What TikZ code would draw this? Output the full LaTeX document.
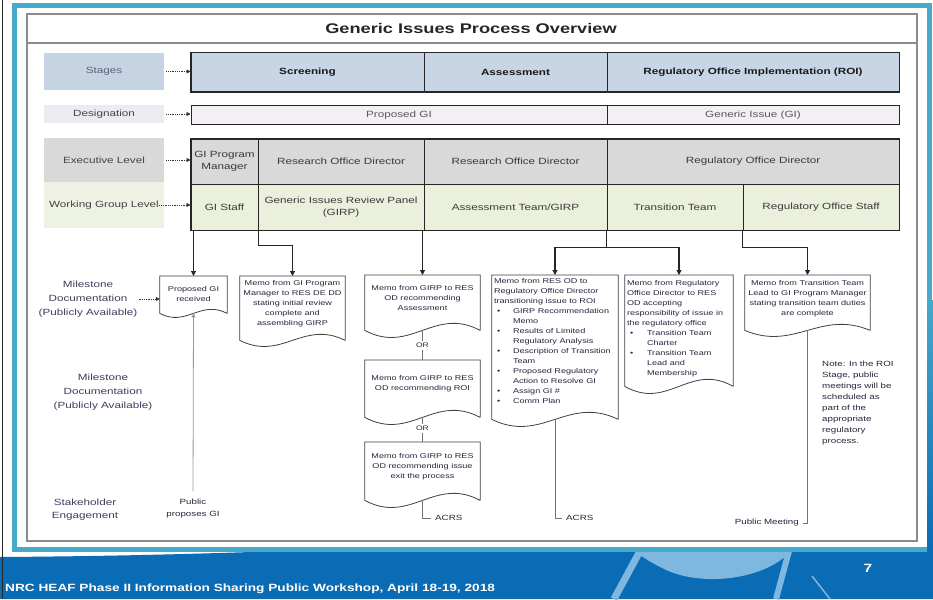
\documentclass[tikz,border=0pt]{standalone}
\usepackage{fontspec}
\setmainfont{Liberation Sans}[FakeStretch=1.3]
\usetikzlibrary{arrows.meta}
\definecolor{stagefill}{HTML}{C8D5E5}
\definecolor{stagelab}{HTML}{C5D3E3}
\definecolor{desfill}{HTML}{F3EFF4}
\definecolor{deslab}{HTML}{EEEAF1}
\definecolor{execfill}{HTML}{D9D9D9}
\definecolor{workfill}{HTML}{EBF0DC}
\definecolor{worklab}{HTML}{EEF2E2}
\definecolor{tealc}{HTML}{45A9CA}
\definecolor{slideblue}{HTML}{0B6CB6}
\definecolor{lightsw}{HTML}{7EB7E0}
\definecolor{rowtxt}{HTML}{3A3A3A}
\definecolor{labtxt}{HTML}{444444}
\definecolor{stagetxt}{HTML}{56657A}
\definecolor{mlabtxt}{HTML}{3C3F5E}
\definecolor{doctxt}{HTML}{25253F}
\newcommand\docshape[6]{%
  \node[docbody, minimum width=#4pt, minimum height=#5pt, anchor=north] (#1) at (#2,#3) {};
  \draw[docline] (#1.south east) -- (#1.north east) -- (#1.north west) -- (#1.south west)
     .. controls +(0.4*#4,3.5*#6) and +(-0.4*#4,-3.5*#6) .. (#1.south east);
}
\begin{document}
\begin{tikzpicture}[x=1pt,y=-1pt,
  cell/.style={draw=black!85, line width=1pt, inner sep=1pt, align=center, text=rowtxt, font=\fontsize{9}{11.5}\selectfont},
  stagecell/.style={cell, fill=stagefill, font=\bfseries\fontsize{9}{11}\selectfont, text=black!90, minimum height=39pt},
  descell/.style={cell, fill=desfill, text=black!65, minimum height=18pt},
  execcell/.style={cell, fill=execfill, minimum height=45pt},
  workcell/.style={cell, fill=workfill, minimum height=46pt},
  lab/.style={inner sep=0pt, minimum width=120pt, text=labtxt, font=\fontsize{9}{11}\selectfont},
  mlab/.style={inner sep=0pt, align=center, text=mlabtxt, font=\fontsize{9}{14}\selectfont},
  dotarr/.style={densely dotted, line width=0.8pt, black!80, -{Triangle[length=4pt,width=4pt]}},
  conn/.style={line width=1.1pt, black!85, -{Triangle[length=5pt,width=5pt]}},
  thin/.style={line width=0.8pt, black!55},
  docbody/.style={inner sep=0pt, rectangle},
  docline/.style={draw=black!75, line width=0.8pt},
  doctext/.style={inner sep=0pt, align=center, text=doctxt, font=\fontsize{7}{10}\selectfont},
  smalltext/.style={inner sep=0pt, text=doctxt, font=\fontsize{7.5}{11}\selectfont}
]
\useasboundingbox (0,0) rectangle (933,599);
\fill[white] (0,0) rectangle (933,599);
% slide footer band
\fill[slideblue] (0,557) .. controls (150,556) and (250,552) .. (340,549) -- (933,549) -- (933,599) -- (0,599) -- cycle;
\fill[lightsw] (634,551) -- (791,551) .. controls (765,580) and (700,588) .. (662,568) .. controls (650,562) and (641,556) .. (634,551) -- cycle;
\draw[lightsw, line width=7pt] (640,551) -- (614,599);
\draw[lightsw, line width=6pt] (789,551) -- (776,599);
\draw[lightsw, line width=1.5pt] (812,576) -- (830,599);
% teal frame
\draw[tealc, line width=5pt] (14.5,5.5) -- (929.5,5.5) -- (929.5,549) -- (14.5,549) -- cycle;
\shade[top color=tealc, bottom color=slideblue] (927,300) rectangle (933,552);
\draw[black!85, line width=1.5pt] (2.5,0) -- (2.5,599);
% diagram frame
\draw[black!45, line width=1.2pt] (27,14) rectangle (917,541);
\draw[black!45, line width=1.2pt] (27,43) -- (917,43);
\node[font=\bfseries\fontsize{14}{16}\selectfont, text=black!85, inner sep=0pt] (title) at (471,28) {Generic Issues Process Overview};
% stages
\node[stagecell, minimum width=233pt] (sc) at (307.5,72.5) {Screening};
\node[stagecell, minimum width=183pt] (as) at (515.5,72.5) {Assessment};
\node[stagecell, minimum width=292pt] (roi) at (753,72.5) {Regulatory Office Implementation (ROI)};
\draw[line width=1.6pt, black!85] (sc.north west) rectangle (roi.south east);
% designation
\node[descell, minimum width=416pt] (pg) at (399,115) {Proposed GI};
\node[descell, minimum width=292pt] (gi) at (753,115) {Generic Issue (GI)};
% executive
\node[execcell, minimum width=67pt] (gipm) at (224.5,161.5) {GI Program\\Manager};
\node[execcell, minimum width=166pt] (rod1) at (341,161.5) {Research Office Director};
\node[execcell, minimum width=183pt] (rod2) at (515.5,161.5) {Research Office Director};
\node[execcell, minimum width=292pt] (regod) at (753,161.5) {Regulatory Office Director};
% working
\node[workcell, minimum width=67pt] (gis) at (224.5,207) {GI Staff};
\node[workcell, minimum width=166pt] (girp) at (341,207) {Generic Issues Review Panel\\(GIRP)};
\node[workcell, minimum width=183pt] (atg) at (515.5,207) {Assessment Team/GIRP};
\node[workcell, minimum width=136pt] (tt) at (675,207) {Transition Team};
\node[workcell, minimum width=156pt] (ros) at (821,207) {Regulatory Office Staff};
\draw[line width=1.4pt, black!85] (gipm.north west) rectangle (ros.south east);
% left labels
\node[lab, fill=stagelab, minimum height=37pt, text=stagetxt] (labst) at (104,71.5) {Stages};
\node[lab, fill=deslab, minimum height=18pt] (labde) at (104,114) {Designation};
\node[lab, fill=execfill, minimum height=44pt] (labex) at (104,160) {Executive Level};
\node[lab, fill=worklab, minimum height=46pt] (labwg) at (104,205) {Working Group Level};
\draw[dotarr] ([xshift=2pt]labst.east) -- (labst.east -| sc.west);
\draw[dotarr] ([xshift=2pt]labde.east) -- (labde.east -| pg.west);
\draw[dotarr] ([xshift=2pt]labex.east) -- (labex.east -| gipm.west);
\draw[dotarr] ([xshift=-5pt]labwg.east) -- (labwg.east -| gis.west);
% milestone labels
\node[mlab] (ml1) at (88,299) {Milestone\\Documentation\\(Publicly Available)};
\node[mlab] (ml2) at (103,392) {Milestone\\Documentation\\(Publicly Available)};
\node[mlab, font=\fontsize{9}{13}\selectfont] (sh) at (85,509.5) {Stakeholder\\Engagement};
% documents
\docshape{d0}{193.5}{276}{67}{37}{4}
\docshape{d1}{292.5}{276}{105}{64}{6}
\docshape{d2}{422.5}{275}{115}{55}{7}
\docshape{d3}{422.5}{360}{115}{57}{7}
\docshape{d4}{422.5}{442}{115}{58}{7}
\docshape{d5}{555}{275}{126}{144}{7}
\docshape{d6}{679}{275}{108}{111}{7}
\docshape{d7}{807.5}{275}{125}{55}{6}
\node[doctext, anchor=north] (d0t) at ([yshift=-10.5pt]d0.north) {Proposed GI\\received};
\node[doctext, anchor=north] (d1t) at ([yshift=-4.5pt]d1.north) {Memo from GI Program\\Manager to RES DE DD\\stating initial review\\complete and\\assembling GIRP};
\node[doctext, anchor=north] (d2t) at ([yshift=-10.5pt]d2.north) {Memo from GIRP to RES\\OD recommending\\Assessment};
\node[doctext, anchor=north] (d3t) at ([yshift=-15.5pt]d3.north) {Memo from GIRP to RES\\OD recommending ROI};
\node[doctext, anchor=north] (d4t) at ([yshift=-11.5pt]d4.north) {Memo from GIRP to RES\\OD recommending issue\\exit the process};
\node[doctext, align=left, anchor=north west] (d5t) at ([xshift=2pt,yshift=-3.2pt]d5.north west) {Memo from RES OD to\\Regulatory Office Director\\transitioning issue to ROI\\
\hspace*{3pt}\makebox[16pt][l]{•}GIRP Recommendation\\\hspace*{19pt}Memo\\
\hspace*{3pt}\makebox[16pt][l]{•}Results of Limited\\\hspace*{19pt}Regulatory Analysis\\
\hspace*{3pt}\makebox[16pt][l]{•}Description of Transition\\\hspace*{19pt}Team\\
\hspace*{3pt}\makebox[16pt][l]{•}Proposed Regulatory\\\hspace*{19pt}Action to Resolve GI\\
\hspace*{3pt}\makebox[16pt][l]{•}Assign GI \#\\
\hspace*{3pt}\makebox[16pt][l]{•}Comm Plan};
\node[doctext, align=left, anchor=north west] (d6t) at ([xshift=2pt,yshift=-5.2pt]d6.north west) {Memo from Regulatory\\Office Director to RES\\OD accepting\\responsibility of issue in\\the regulatory office\\
\hspace*{3pt}\makebox[17pt][l]{•}Transition Team\\\hspace*{20pt}Charter\\
\hspace*{3pt}\makebox[17pt][l]{•}Transition Team\\\hspace*{20pt}Lead and\\\hspace*{20pt}Membership};
\node[doctext, anchor=north] (d7t) at ([yshift=-5.5pt]d7.north) {Memo from Transition Team\\Lead to GI Program Manager\\stating transition team duties\\are complete};
% connectors from rows
\draw[conn] (gis.south -| d0.north) -- (d0.north);
\draw[conn] (gis.south east) -- ++(0,15) -| (d1.north);
\draw[conn] (atg.south west -| d2.north) -- (d2.north);
\draw[conn] (tt.south west) -- ++(0,17) -| (d5.north);
\draw[conn] ([yshift=-17pt]tt.south west) -| (d6.north);
\draw[conn] (ros.south west) -- ++(0,17) -| (d7.north);
% OR chain
\node[smalltext, font=\fontsize{6.5}{8}\selectfont] (or1) at (422.5,345) {OR};
\node[smalltext, font=\fontsize{6.5}{8}\selectfont] (or2) at (422.5,428.5) {OR};
\draw[thin] (d2.south) -- ([yshift=2pt]or1.north);
\draw[thin] ([yshift=-2pt]or1.south) -- (d3.north);
\draw[thin] (d3.south) -- ([yshift=2pt]or2.north);
\draw[thin] ([yshift=-2pt]or2.south) -- (d4.north);
\node[smalltext, anchor=west] (acrs1) at (435,518) {ACRS};
\draw[thin] (d4.south) |- ([xshift=-4pt]acrs1.west);
\node[smalltext, anchor=west] (acrs2) at (566,518) {ACRS};
\draw[thin] (d5.south) |- ([xshift=-4pt]acrs2.west);
\node[smalltext, anchor=east] (pm) at (799,523) {Public Meeting};
\draw[thin] (d7.south) |- ([xshift=4pt]pm.east);
\node[smalltext, align=center, font=\fontsize{7.5}{12}\selectfont] (pp) at (193,509) {Public\\proposes GI};
\draw[thin, black!40, -{Triangle[length=4pt,width=4pt]}] ([yshift=8pt]pp.north) -- (d0.south);
\draw[dotarr] ([xshift=1pt]ml1.east) -- (ml1.east -| d0.west);
\node[smalltext, align=left, anchor=north west] (note) at (822,361) {Note: In the ROI\\Stage, public\\meetings will be\\scheduled as\\part of the\\appropriate\\regulatory\\process.};
% footer text
\node[anchor=west, text=white, font=\bfseries\fontsize{10.5}{12}\selectfont, inner sep=0pt] (foot) at (5,589) {NRC HEAF Phase II Information Sharing Public Workshop, April 18-19, 2018};
\node[text=white, font=\bfseries\fontsize{12}{14}\selectfont, inner sep=0pt] (pnum) at (868,568) {7};
\end{tikzpicture}
\end{document}
